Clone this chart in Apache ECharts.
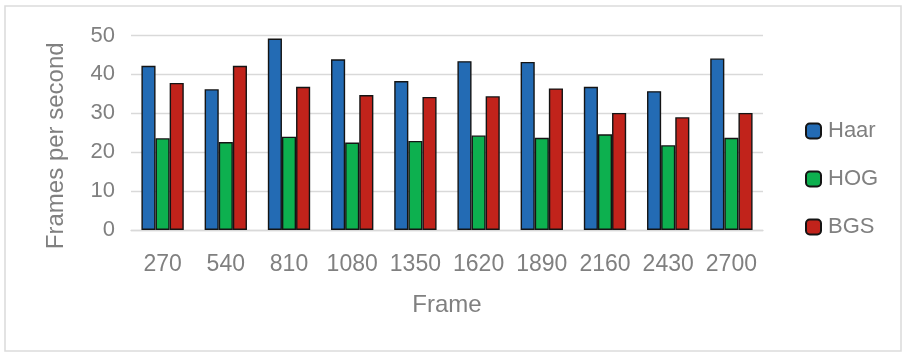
<!DOCTYPE html>
<html>
<head>
<meta charset="utf-8">
<script src="https://cdn.jsdelivr.net/npm/echarts@6/dist/echarts.min.js"></script>
<style>
  html, body { margin: 0; padding: 0; background: #ffffff; }
  #chart { width: 905px; height: 353px; }
</style>
</head>
<body>
<div id="chart"></div>
<script>
// Frame numbers sampled along the video
const frames = ['270', '540', '810', '1080', '1350', '1620', '1890', '2160', '2430', '2700'];

// Processing speed (frames per second) for each detector
const haar = [42.2, 36.2, 49.2, 43.9, 38.3, 43.4, 43.2, 36.8, 35.7, 44.1];
const hog  = [23.6, 22.6, 24.0, 22.5, 22.9, 24.3, 23.7, 24.6, 21.8, 23.7];
const bgs  = [37.8, 42.2, 36.8, 34.7, 34.2, 34.4, 36.4, 30.1, 29.0, 30.1];

const seriesNames = ['Haar', 'HOG', 'BGS'];
const seriesColors = ['#236bb4', '#0db04f', '#c1231b'];

const textColor = '#808080';
const fontFamily = "'Liberation Sans', Arial, sans-serif";

const chart = echarts.init(document.getElementById('chart'), null, { renderer: 'canvas' });

function barSeries(name, data, color) {
  return {
    name: name,
    type: 'bar',
    data: data,
    barGap: '0%',
    barCategoryGap: '33%',
    itemStyle: { color: color, borderColor: '#141414', borderWidth: 1.4 }
  };
}

chart.setOption({
  animation: false,
  backgroundColor: '#ffffff',
  textStyle: { fontFamily: fontFamily },
  graphic: [{
    type: 'rect',
    shape: { x: 5, y: 6, width: 896, height: 345 },
    style: { fill: 'none', stroke: '#dcdcdc', lineWidth: 1.6 },
    silent: true,
    z: -10
  }],
  grid: { left: 131, right: 142, top: 35.5, bottom: 123 },
  legend: {
    orient: 'vertical',
    left: 805,
    top: 120,
    padding: 0,
    itemWidth: 15,
    itemHeight: 15,
    itemGap: 26,
    data: seriesNames,
    textStyle: { color: textColor, fontSize: 22, fontFamily: fontFamily, padding: [0, 0, 0, 2] }
  },
  xAxis: {
    type: 'category',
    data: frames,
    name: 'Frame',
    nameLocation: 'middle',
    nameGap: 63,
    nameTextStyle: { color: textColor, fontSize: 24, fontFamily: fontFamily },
    axisLine: { lineStyle: { color: '#d9d9d9', width: 1.3 } },
    axisTick: { show: false },
    axisLabel: { color: textColor, fontSize: 23, margin: 23, fontFamily: fontFamily, interval: 0 }
  },
  yAxis: {
    type: 'value',
    min: 0,
    max: 50,
    interval: 10,
    name: 'Frames per second',
    nameLocation: 'middle',
    nameGap: 63,
    nameTextStyle: { color: textColor, fontSize: 24, fontFamily: fontFamily, padding: [0, 26, 0, 0] },
    axisLine: { show: false },
    axisTick: { show: false },
    axisLabel: { color: textColor, fontSize: 22, margin: 16, fontFamily: fontFamily },
    splitLine: { lineStyle: { color: '#d9d9d9', width: 1.3 } }
  },
  series: [
    barSeries(seriesNames[0], haar, seriesColors[0]),
    barSeries(seriesNames[1], hog, seriesColors[1]),
    barSeries(seriesNames[2], bgs, seriesColors[2])
  ]
});
</script>
</body>
</html>
